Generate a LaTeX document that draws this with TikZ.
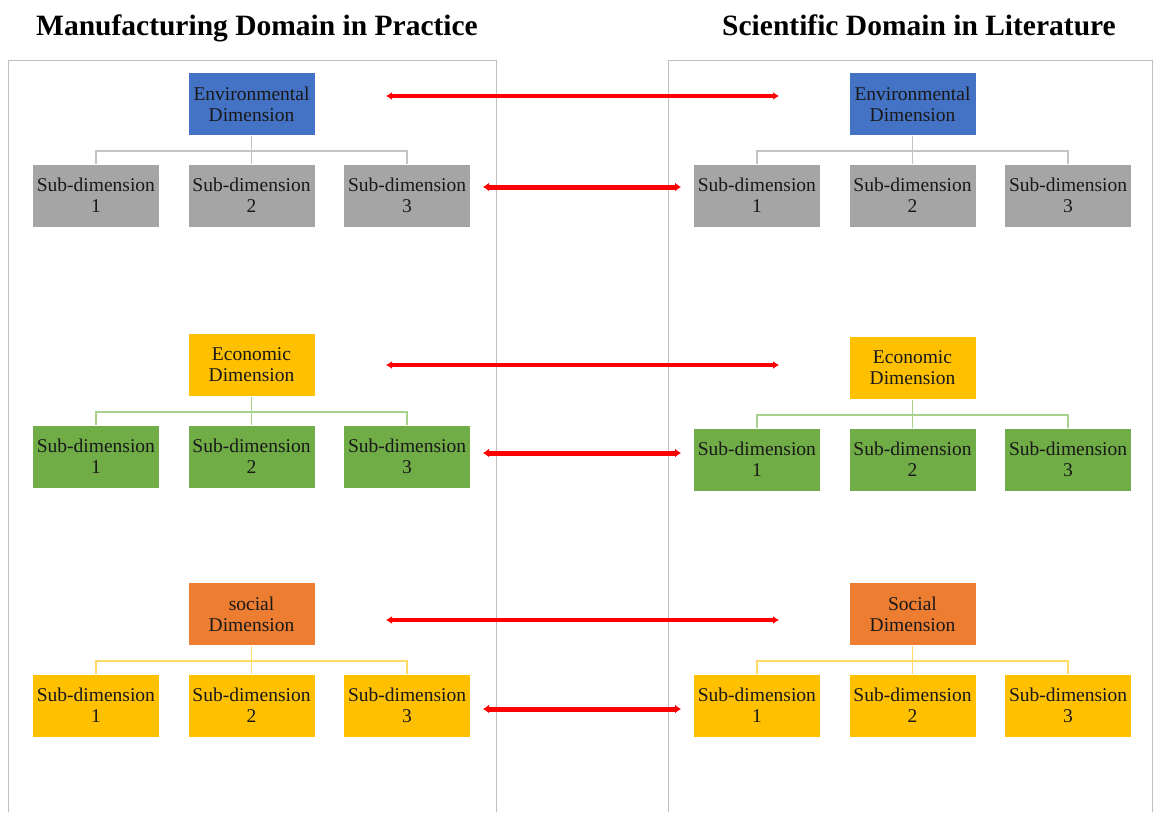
\documentclass[tikz,border=0pt]{standalone}
\usepackage{fontspec}
\setmainfont{Liberation Serif}
\usetikzlibrary{arrows.meta, positioning}

\definecolor{envblue}{HTML}{4472C4}
\definecolor{subgray}{HTML}{A5A5A5}
\definecolor{ecogold}{HTML}{FFC000}
\definecolor{subgreen}{HTML}{70AD47}
\definecolor{socorange}{HTML}{ED7D31}
\definecolor{linegray}{HTML}{C4C4C4}
\definecolor{linegreen}{HTML}{A9D18E}
\definecolor{linegold}{HTML}{FFD966}
\definecolor{framegray}{HTML}{BFBFBF}

\begin{document}
\begin{tikzpicture}[
  x=1pt, y=-1pt,
  box/.style = {rectangle, draw=white, line width=0.6pt, minimum width=127pt, minimum height=63pt, inner sep=0pt, align=center, text=black!90, font=\fontsize{19.5}{21}\selectfont},
  title/.style = {anchor=base, font=\fontsize{29.5}{32}\selectfont\bfseries},
  frame/.style = {draw=framegray, line width=1pt},
  tree/.style = {line width=1.4pt},
  link/.style = {draw=red, line width=3.5pt, {Latex[length=6pt,width=8pt]}-{Latex[length=6pt,width=8pt]}},
  sublink/.style = {draw=red, line width=5pt, {Latex[length=6pt,width=9pt]}-{Latex[length=6pt,width=9pt]}},
  node distance=28pt and 28pt
  ]
  \useasboundingbox (0,0) rectangle (1156,812);

  % Titres et cadres
  \node[title] (titleL) at (257,35) {Manufacturing Domain in Practice};
  \node[title] (titleR) at (919,35) {Scientific Domain in Literature};
  \draw[frame] (8,812) |- (496,60) -- (496,812);
  \draw[frame] (668,812) |- (1152,60) -- (1152,812);

  % Environnement
  \node[box, fill=envblue] (envL) at (251.5,104) {Environmental\\Dimension};
  \node[box, fill=subgray, below=of envL] (envL2) {Sub-dimension\\2};
  \node[box, fill=subgray, left=of envL2] (envL1) {Sub-dimension\\1};
  \node[box, fill=subgray, right=of envL2] (envL3) {Sub-dimension\\3};
  \node[box, fill=envblue] (envR) at (912.5,104) {Environmental\\Dimension};
  \node[box, fill=subgray, below=of envR] (envR2) {Sub-dimension\\2};
  \node[box, fill=subgray, left=of envR2] (envR1) {Sub-dimension\\1};
  \node[box, fill=subgray, right=of envR2] (envR3) {Sub-dimension\\3};

  % Economie
  \node[box, fill=ecogold] (ecoL) at (251.5,365) {Economic\\Dimension};
  \node[box, fill=subgreen, below=of ecoL] (ecoL2) {Sub-dimension\\2};
  \node[box, fill=subgreen, left=of ecoL2] (ecoL1) {Sub-dimension\\1};
  \node[box, fill=subgreen, right=of ecoL2] (ecoL3) {Sub-dimension\\3};
  \node[box, fill=ecogold] (ecoR) at (912.5,368) {Economic\\Dimension};
  \node[box, fill=subgreen, below=of ecoR] (ecoR2) {Sub-dimension\\2};
  \node[box, fill=subgreen, left=of ecoR2] (ecoR1) {Sub-dimension\\1};
  \node[box, fill=subgreen, right=of ecoR2] (ecoR3) {Sub-dimension\\3};

  % Social
  \node[box, fill=socorange] (socL) at (251.5,614) {social\\Dimension};
  \node[box, fill=ecogold, below=of socL] (socL2) {Sub-dimension\\2};
  \node[box, fill=ecogold, left=of socL2] (socL1) {Sub-dimension\\1};
  \node[box, fill=ecogold, right=of socL2] (socL3) {Sub-dimension\\3};
  \node[box, fill=socorange] (socR) at (912.5,614) {Social\\Dimension};
  \node[box, fill=ecogold, below=of socR] (socR2) {Sub-dimension\\2};
  \node[box, fill=ecogold, left=of socR2] (socR1) {Sub-dimension\\1};
  \node[box, fill=ecogold, right=of socR2] (socR3) {Sub-dimension\\3};

  % Arbres
  \draw[tree, linegray] (envL.south) -- (envL2.north);
  \draw[tree, linegray] (envL1.north) -- ++(0,-13) -| (envL3.north);
  \draw[tree, linegray] (envR.south) -- (envR2.north);
  \draw[tree, linegray] (envR1.north) -- ++(0,-13) -| (envR3.north);
  \draw[tree, linegreen] (ecoL.south) -- (ecoL2.north);
  \draw[tree, linegreen] (ecoL1.north) -- ++(0,-13) -| (ecoL3.north);
  \draw[tree, linegreen] (ecoR.south) -- (ecoR2.north);
  \draw[tree, linegreen] (ecoR1.north) -- ++(0,-13) -| (ecoR3.north);
  \draw[tree, linegold] (socL.south) -- (socL2.north);
  \draw[tree, linegold] (socL1.north) -- ++(0,-13) -| (socL3.north);
  \draw[tree, linegold] (socR.south) -- (socR2.north);
  \draw[tree, linegold] (socR1.north) -- ++(0,-13) -| (socR3.north);

  % Flèches
  \coordinate (envA) at (386,96);
  \coordinate (envB) at (779,96);
  \coordinate (envSubA) at (483,187);
  \coordinate (envSubB) at (681,187);
  \coordinate (ecoA) at (386,365);
  \coordinate (ecoB) at (779,365);
  \coordinate (ecoSubA) at (483,453);
  \coordinate (ecoSubB) at (681,453);
  \coordinate (socA) at (386,620);
  \coordinate (socB) at (779,620);
  \coordinate (socSubA) at (483,709);
  \coordinate (socSubB) at (681,709);
  \draw[link] (envA) -- (envB);
  \draw[sublink] (envSubA) -- (envSubB);
  \draw[link] (ecoA) -- (ecoB);
  \draw[sublink] (ecoSubA) -- (ecoSubB);
  \draw[link] (socA) -- (socB);
  \draw[sublink] (socSubA) -- (socSubB);

\end{tikzpicture}
\end{document}
